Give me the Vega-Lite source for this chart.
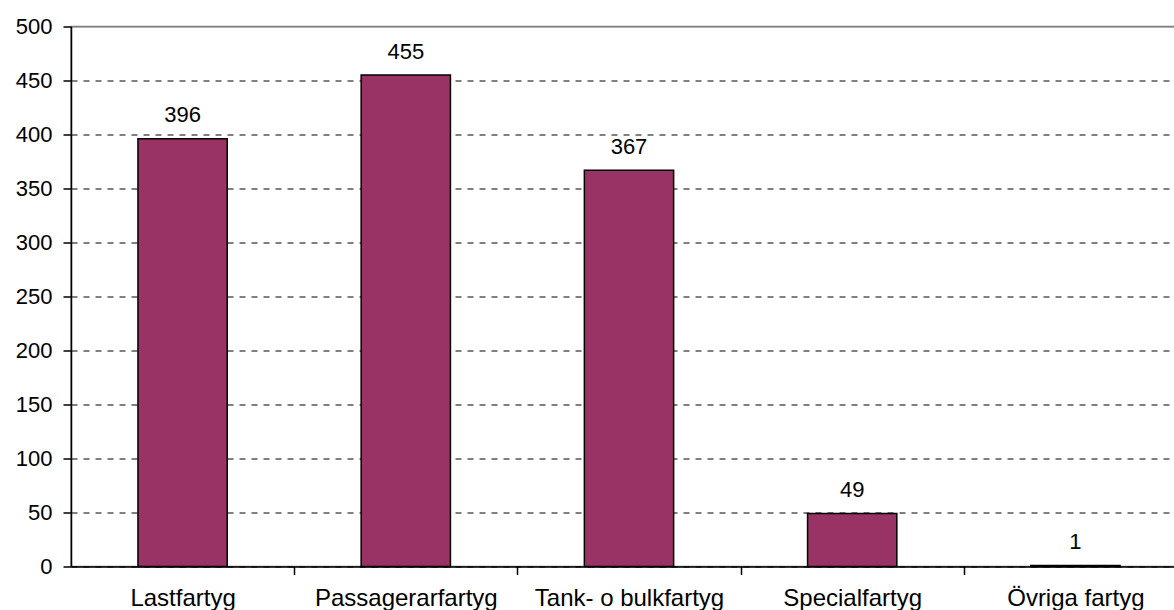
{
  "$schema": "https://vega.github.io/schema/vega-lite/v6.json",
  "width": 1116,
  "height": 540,
  "autosize": {"type": "none"},
  "padding": {"left": 71, "top": 26.5, "right": 0, "bottom": 44},
  "background": "white",
  "config": {
    "font": "Liberation Sans",
    "view": {"stroke": "#808080", "strokeWidth": 1.5}
  },
  "data": {
    "values": [
      {"typ": "Lastfartyg", "antal": 396},
      {"typ": "Passagerarfartyg", "antal": 455},
      {"typ": "Tank- o bulkfartyg", "antal": 367},
      {"typ": "Specialfartyg", "antal": 49},
      {"typ": "Övriga fartyg", "antal": 1}
    ]
  },
  "encoding": {
    "x": {
      "field": "typ",
      "type": "nominal",
      "sort": null,
      "title": null,
      "scale": {"paddingInner": 0.6, "paddingOuter": 0.3},
      "axis": {
        "labelAngle": 0,
        "labelFontSize": 24,
        "labelColor": "#000",
        "labelPadding": 12,
        "labelLimit": 300,
        "labelOffset": -111.6,
        "tickOffset": 111.6,
        "tickSize": 8,
        "tickColor": "#000",
        "tickWidth": 1.5,
        "domainColor": "#000",
        "domainWidth": 1.5,
        "grid": false
      }
    },
    "y": {
      "field": "antal",
      "type": "quantitative",
      "title": null,
      "scale": {"domain": [0, 500], "nice": false},
      "axis": {
        "values": [0, 50, 100, 150, 200, 250, 300, 350, 400, 450, 500],
        "labelFontSize": 22,
        "labelColor": "#000",
        "labelPadding": 11,
        "tickSize": 8,
        "tickColor": "#000",
        "tickWidth": 1.5,
        "domainColor": "#000",
        "domainWidth": 1.5,
        "grid": true,
        "gridColor": {"condition": {"test": "datum.value === 500", "value": "#808080"}, "value": "#000"},
        "gridDash": {"condition": {"test": "datum.value === 500", "value": []}, "value": [6, 6]},
        "gridWidth": 1
      }
    }
  },
  "layer": [
    {
      "mark": {"type": "bar", "color": "#993366", "stroke": "#000", "strokeWidth": 1.5}
    },
    {
      "mark": {"type": "text", "fontSize": 22, "color": "#000", "baseline": "alphabetic", "dy": -16.5},
      "encoding": {"text": {"field": "antal", "type": "quantitative"}}
    }
  ]
}
